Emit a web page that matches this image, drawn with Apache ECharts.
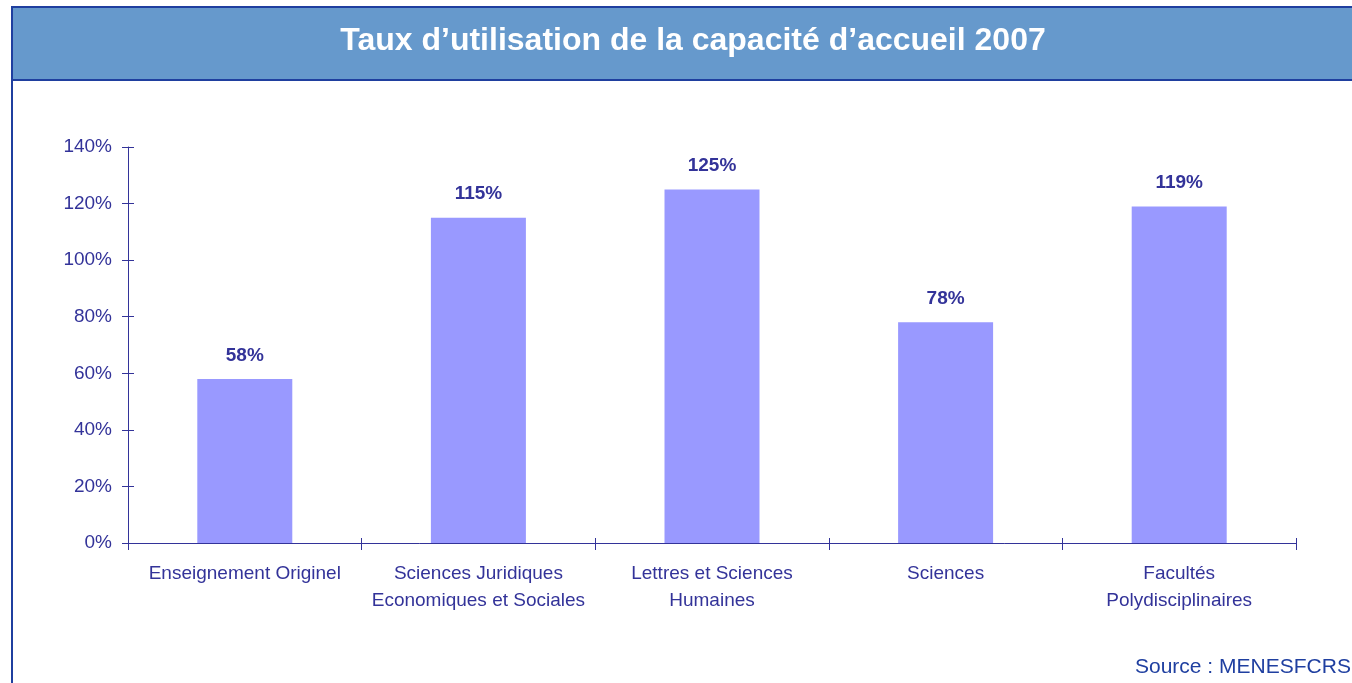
<!DOCTYPE html>
<html lang="fr">
<head>
    <meta charset="UTF-8">
    <title>Taux d'utilisation de la capacité d'accueil 2007</title>
    <script src="https://cdn.jsdelivr.net/npm/echarts@6/dist/echarts.min.js"></script>
    <style>
        html, body { margin: 0; padding: 0; background: #fff; }
    </style>
</head>
<body>
    <div id="main" style="width: 1352px; height: 683px"></div>
    <script>
        // données
        var categories = ['Enseignement Originel', 'Sciences Juridiques\nEconomiques et Sociales',
            'Lettres et Sciences\nHumaines', 'Sciences', 'Facultés\nPolydisciplinaires'];
        var taux = [58, 115, 125, 78, 119];
        var yTicks = [0, 20, 40, 60, 80, 100, 120, 140];

        var font = 'Liberation Sans, Arial, sans-serif';
        var ink = '#333399';

        echarts.init(document.getElementById('main')).setOption({
            animation: false,
            textStyle: { fontFamily: font },
            graphic: [
                // cadre + bandeau du titre
                { type: 'rect', z: -10, shape: { x: 12, y: 7, width: 1400, height: 720 },
                  style: { fill: '#fff', stroke: '#1f3f9f', lineWidth: 2 } },
                { type: 'rect', z: -9, shape: { x: 12, y: 7, width: 1400, height: 73 },
                  style: { fill: '#6699cc', stroke: '#1f3f9f', lineWidth: 2 } },
                { type: 'text', x: 693, y: 41, style: {
                    text: 'Taux d’utilisation de la capacité d’accueil 2007',
                    fill: '#fff', font: 'bold 32px ' + font, align: 'center', verticalAlign: 'middle' } },
                { type: 'text', x: 1135, y: 667, style: {
                    text: 'Source : MENESFCRS', fill: '#1f3fa0', font: '21px ' + font,
                    align: 'left', verticalAlign: 'middle' } }
            ],
            grid: { left: 128, right: 56, top: 147, bottom: 140 },
            xAxis: [{
                type: 'category',
                data: categories,
                axisLine: { lineStyle: { color: ink, width: 1 } },
                axisTick: { show: true, length: 7, lineStyle: { color: ink } },
                axisLabel: { color: ink, fontSize: 19, lineHeight: 27, margin: 17, interval: 0 }
            }, {
                // petits traits vers l'intérieur
                type: 'category',
                data: categories,
                position: 'bottom',
                axisLine: { show: false },
                axisTick: { show: true, inside: true, length: 5, lineStyle: { color: ink } },
                axisLabel: { show: false }
            }],
            yAxis: [{
                type: 'value',
                min: 0, max: 140, interval: 20,
                axisLine: { show: true, lineStyle: { color: ink, width: 1 } },
                axisTick: { show: true, length: 6, lineStyle: { color: ink } },
                splitLine: { show: false },
                axisLabel: {
                    color: ink, fontSize: 19, margin: 16,
                    formatter: function (v) { return yTicks.indexOf(v) >= 0 ? v + '%' : ''; }
                }
            }, {
                type: 'value',
                position: 'left',
                min: 0, max: 140, interval: 20,
                axisLine: { show: false },
                axisTick: { show: true, inside: true, length: 6, lineStyle: { color: ink } },
                splitLine: { show: false },
                axisLabel: { show: false }
            }],
            series: [{
                type: 'bar',
                data: taux,
                barWidth: 95,
                itemStyle: { color: '#9999ff' },
                label: {
                    show: true, position: 'top', distance: 14,
                    formatter: '{c}%', color: ink, fontSize: 19, fontWeight: 'bold'
                }
            }]
        });
    </script>
</body>
</html>
